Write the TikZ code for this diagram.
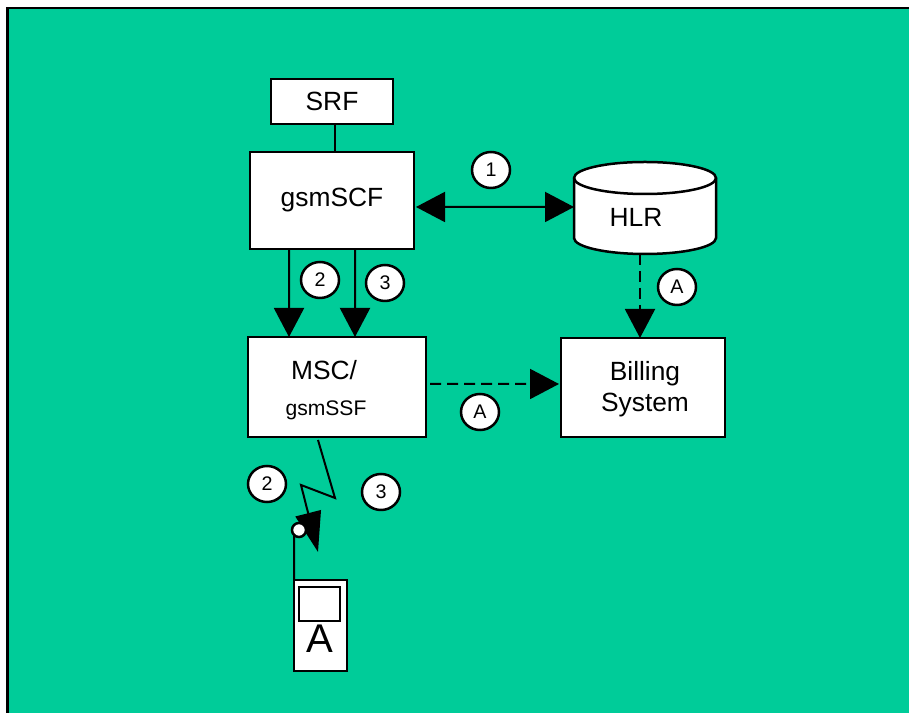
\documentclass[tikz,border=0pt]{standalone}
\usepackage{fontspec}
\setmainfont{Liberation Sans}
\usetikzlibrary{shapes.geometric}
\usetikzlibrary{arrows.meta}
\usetikzlibrary{positioning}
\definecolor{panelgreen}{HTML}{00CC99}

\begin{document}
\begin{tikzpicture}[>={Triangle[length=.29cm,width=.3cm]},line width=.02cm,
	big text/.style={font=\fontsize{7.5}{8.8}\selectfont,align=center},
	box node/.style={rectangle,draw,line width=.027cm,fill=white,outer sep=0pt,inner sep=0pt,big text},
	badge node/.style={ellipse,draw,line width=.025cm,fill=white,inner sep=0pt,minimum width=.38cm,minimum height=.36cm,font=\fontsize{5.6}{6}\selectfont},
	text node/.style={inner sep=0pt,align=center},
	dash line/.style={dash pattern=on .11cm off .06cm}]
	
	\useasboundingbox (0,0) rectangle (9.09,7.13);
	\fill[panelgreen] (.075,0) rectangle (9.09,7.05);
	\draw[line width=.025cm] (.075,0) -- (.075,7.05) -- (9.09,7.05);
	
	\node[box node,minimum width=1.22cm,minimum height=.45cm] at (3.32,6.115) (srf) {SRF};
	\node[box node,minimum width=1.64cm,minimum height=.97cm] at (3.32,5.125) (scf) {gsmSCF};
	\node[box node,minimum width=1.78cm,minimum height=1cm] at (3.37,3.26) (msc) {};
	\node[box node,minimum width=1.64cm,minimum height=.99cm] at (6.43,3.255) (billing) {};
	
	% drum for the HLR, the node only gives the anchors
	\node[rectangle,outer sep=0pt,inner sep=0pt,minimum width=1.42cm,minimum height=.92cm] at (6.45,5.05) (hlr) {};
	\draw[line width=.025cm,fill=white] ([yshift=-.16cm]hlr.north west) arc (180:0:.71cm and .16cm) -- ([yshift=.16cm]hlr.south east) arc (0:-180:.71cm and .16cm) -- cycle;
	\draw[line width=.025cm] ([yshift=-.16cm]hlr.north west) arc (180:360:.71cm and .16cm);
	
	\node[text node,big text] at (3.24,3.43) (msc name) {MSC/};
	\node[text node,font=\fontsize{6}{7}\selectfont] at (3.26,3.03) (ssf name) {gsmSSF};
	\node[text node,big text] at (6.36,4.96) (hlr name) {HLR};
	\node[text node,big text] at (6.45,3.235) (billing name) {Billing\\System};
	
	\node[badge node] at (4.91,5.43) (b1) {1};
	\node[badge node] at (3.2,4.33) (b2) {2};
	\node[badge node] at (3.85,4.3) (b3) {3};
	\node[badge node] at (6.77,4.26) (ba) {A};
	\node[badge node] at (4.8,3.01) (bb) {A};
	\node[badge node] at (2.67,2.29) (b4) {2};
	\node[badge node] at (3.81,2.21) (b5) {3};
	
	\coordinate (bolt end) at (3.18,1.61);
	\draw[-{Triangle[length=.4cm,width=.26cm]}] ([xshift=-.19cm,yshift=-.03cm]msc.south) -- (3.35,2.15) -- (3.01,2.28) -- (bolt end);
	
	\node[rectangle,draw,line width=.025cm,fill=white,outer sep=0pt,minimum width=.53cm,minimum height=.91cm] at (3.205,.875) (phone) {};
	\node[rectangle,draw,line width=.025cm,fill=white,outer sep=0pt,minimum width=.41cm,minimum height=.34cm] at (3.195,1.09) (screen) {};
	\node[text node,font=\fontsize{11.4}{12}\selectfont] at (3.2,.745) (phone name) {A};
	\node[circle,draw,line width=.025cm,fill=white,outer sep=0pt,inner sep=0pt,minimum size=.14cm] at (2.99,1.83) (antenna) {};
	
	\path
	([xshift=.03cm]srf.south) edge ([xshift=.03cm]scf.north)
	([xshift=.02cm,yshift=-.065cm]scf.east) edge[<->] ([yshift=.01cm]hlr.west)
	([xshift=-.43cm]scf.south) edge[->] ([xshift=-.48cm]msc.north)
	([xshift=.23cm]scf.south) edge[->] ([xshift=.18cm]msc.north)
	([xshift=-.05cm]hlr.south) edge[->,dash line] ([xshift=-.03cm]billing.north)
	([xshift=.04cm,yshift=.03cm]msc.east) edge[->,dash line,shorten >=.02cm] ([yshift=.035cm]billing.west)
	(phone.north west) edge (antenna.south west)
	;
	
\end{tikzpicture}
\end{document}
